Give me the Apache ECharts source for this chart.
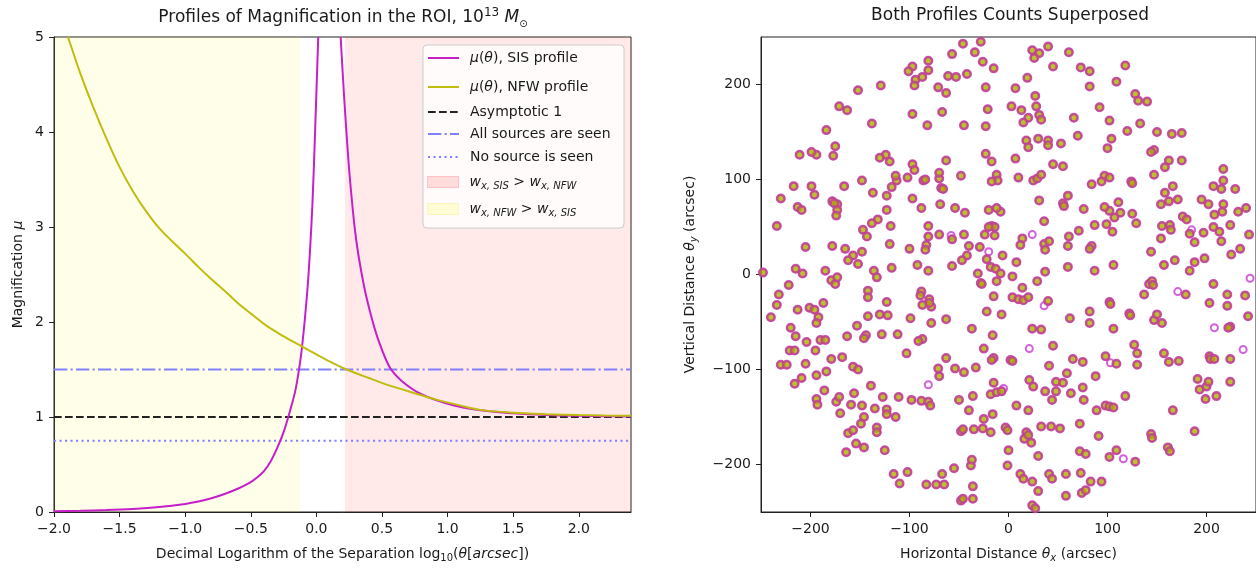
<!DOCTYPE html>
<html><head><meta charset="utf-8">
<script src="https://cdn.jsdelivr.net/npm/echarts@6/dist/echarts.min.js"></script>
<style>html,body{margin:0;padding:0;background:#fff}#c{width:1256px;height:568px}</style>
</head><body><div id="c"></div><script>
// ---------- data ----------
const xTicksLeft = [-2.0,-1.5,-1.0,-0.5,0.0,0.5,1.0,1.5,2.0];
const yTicksLeft = [0,1,2,3,4,5];
const ticksRight = [-200,-100,0,100,200];

const sisLeftX  = [-2.0,-1.8,-1.6,-1.4,-1.2,-1.0,-0.9,-0.8,-0.7,-0.6,-0.5,-0.45,-0.4,-0.35,-0.3,-0.25,-0.2,-0.16,-0.12,-0.09,-0.06,-0.03,-0.01,0.014];
const sisLeftMu = [0.008,0.013,0.02,0.032,0.052,0.085,0.11,0.145,0.19,0.245,0.315,0.365,0.43,0.53,0.67,0.84,1.07,1.28,1.62,2.0,2.5,3.25,4.0,5.0];
const sisRightX  = [0.185,0.21,0.25,0.30,0.36,0.42,0.48,0.56,0.65,0.8,1.0,1.25,1.5,1.75,2.0,2.2,2.398];
const sisRightMu = [5.0,4.4,3.6,2.9,2.4,2.05,1.78,1.52,1.38,1.24,1.14,1.07,1.04,1.022,1.013,1.009,1.006];
const nfwX  = [-1.893,-1.8,-1.7,-1.6,-1.5,-1.4,-1.3,-1.2,-1.1,-1.0,-0.9,-0.8,-0.7,-0.6,-0.5,-0.4,-0.3,-0.2,-0.12,0.0,0.1,0.22,0.4,0.56,0.75,0.92,1.1,1.25,1.5,1.75,2.0,2.2,2.398];
const nfwMu = [5.0,4.62,4.26,3.93,3.63,3.38,3.17,2.99,2.85,2.72,2.58,2.45,2.33,2.2,2.09,1.98,1.89,1.81,1.75,1.66,1.585,1.505,1.41,1.33,1.25,1.18,1.12,1.075,1.045,1.03,1.02,1.015,1.012];
const xRangeLeft = [-2.0, 2.398];
const yellowSpan = [-2.0, -0.124];
const redSpan = [0.217, 2.398];
const asymptoteLevel = 1.0;
const allSeenLevel = 1.5;
const noneSeenLevel = 0.75;

// sources detected with both profiles (filled) and with the SIS profile only (hollow)
const bothPoints = [
[-46,243],[-28,245],[-34,234],[-57,232],[-81,225],[-26,224],[-15,217],[-81,215],[-97,219],[-101,214],[-94,205],[-87,208],[-95,199],[-61,209],[-53,208],[-42,211],[-63,191],[-71,197],[-23,197],[-21,174],[-67,171],[-97,169],[-82,157],[-45,157],[-23,156],[-152,194],[-129,199],[-171,177],[-163,173],[-138,159],[-184,152],
[24,236],[31,233],[26,228],[40,240],[61,234],[45,219],[73,218],[82,214],[82,198],[118,220],[109,203],[19,207],[7,196],[27,188],[28,177],[3,177],[13,173],[31,168],[33,163],[20,165],[15,160],[66,165],[70,146],[92,176],[102,162],[128,190],[131,183],[140,182],[133,159],[120,151],[150,150],[165,148],[175,149],[104,143],[100,133],[30,143],[40,141],[40,136],[53,138],[18,141],[20,134],[7,122],[-23,127],[-17,119],[10,102],[-12,105],[-11,99],[-17,98],[45,116],[55,114],[25,99],[29,101],[33,105],[147,131],[144,129],[162,120],[175,120],[158,113],[147,105],[97,104],[102,102],[94,98],[84,95],[124,98],[125,96],[217,111],[217,99],[207,93],[215,90],[229,90],[166,93],[158,86],[162,77],[171,79],[154,74],[195,79],[202,74],[217,74],[216,66],[232,66],[240,70],[176,61],[180,58],[208,63],[207,50],[213,45],[224,52],[215,35],[243,42],[234,27],[197,44],[188,34],[183,43],[198,17],[188,13],[183,4],[225,21],[155,51],[163,52],[164,47],[154,38],[144,24],[168,15],[157,10],[129,54],[125,64],[111,76],[113,65],[107,60],[105,45],[102,67],[97,71],[99,53],[87,52],[76,69],[71,46],[84,30],[82,27],[106,10],[87,4],[60,83],[55,75],[56,72],[61,40],[60,30],[60,8],[36,56],[31,78],[36,32],[37,26],[41,35],[37,3],[29,-7],[14,38],[12,31],[8,13],
[-8,66],[-12,70],[-20,68],[-17,51],[-14,50],[-20,50],[-14,41],[-24,42],[-29,29],[-22,16],[-6,20],[-18,8],[-13,6],[-12,-7],[-8,1],[-31,1],[-28,-9],[-27,-10],[-42,20],[-47,15],[-40,30],[-45,42],[-44,65],[-54,70],[-57,37],[-57,9],[-69,74],[-70,101],[-68,91],[-66,90],[-70,107],[-63,120],[-48,104],[-70,42],[-81,51],[-81,40],[-83,31],[-84,26],[-88,70],[-86,99],[-84,100],[-97,116],[-95,110],[-102,102],[-113,99],[-118,92],[-123,83],[-123,68],[-119,51],[-120,32],[-118,7],[-97,80],[-100,27],[-92,10],[-81,4],[-120,119],[-124,126],[-130,123],[-114,104],[-132,58],[-138,54],[-137,86],[-148,99],[-147,47],[-143,40],[-148,24],[-165,27],[-157,20],[-162,15],[-152,11],[-136,4],[-133,-3],[-166,93],[-178,77],[-173,74],[-176,75],[-173,68],[-174,62],[-177,125],[-175,135],[-194,126],[-199,129],[-211,126],[-217,93],[-199,93],[-196,84],[-230,80],[-213,71],[-209,68],[-234,51],[-205,29],[-178,30],[-215,6],[-208,1],[-248,2],[-185,4],[-179,-6],[-175,-10],[-173,-3],
[-222,-11],[-232,-21],[-234,-32],[-240,-45],[-213,-37],[-201,-35],[-196,-37],[-192,-45],[-194,-51],[-187,-30],[-220,-56],[-215,-65],[-204,-71],[-195,-80],[-221,-80],[-216,-80],[-230,-95],[-224,-95],[-205,-94],[-209,-109],[-216,-115],[-194,-106],[-190,-69],[-185,-69],[-179,-89],[-184,-102],[-186,-122],[-194,-131],[-193,-137],[-174,-134],[-171,-129],[-170,-146],[-168,-87],[-163,-65],[-157,-97],[-152,-100],[-153,-54],[-142,-44],[-142,-17],[-142,-24],[-144,-64],[-146,-67],[-130,-42],[-122,-43],[-128,-63],[-123,-29],[-112,-63],[-99,-46],[-103,-83],[-156,-125],[-159,-137],[-148,-138],[-146,-150],[-149,-157],[-135,-141],[-127,-129],[-123,-142],[-123,-147],[-111,-129],[-114,-150],[-133,-161],[-133,-166],[-162,-167],[-157,-164],[-154,-178],[-146,-182],[-164,-187],[-125,-185],[-116,-210],[-110,-220],[-102,-208],[-98,-132],[-88,-133],[-81,-134],[-79,-138],[-139,-117],
[-83,-221],[-73,-221],[-65,-221],[-67,-210],[-55,-204],[-48,-165],[-46,-163],[-50,-132],[-36,-128],[-40,-143],[-35,-163],[-25,-152],[-26,-162],[-18,-166],[-16,-147],[-38,-201],[-37,-195],[-36,-223],[-48,-238],[-46,-236],[-36,-236],[-70,-107],[-71,-99],[-63,-88],[-54,-99],[-45,-103],[-33,-98],[-37,-57],[-63,-47],[-78,-51],[-78,-34],[-80,-26],[-80,-30],[-87,-32],[-88,-18],[-89,-22],[-87,-68],[-91,-70],[-25,-78],[-16,-64],[-22,-39],[-15,-23],[-7,-42],[-15,-88],[-17,-90],[-15,-114],[-18,-126],[-12,-124],[-7,-123],[2,-90],[4,-91],[8,-138],[-3,-161],[-1,-164],[0,-185],[-1,-201],[12,-210],[15,-215],[18,-166],[16,-173],[23,-177],[20,-169],[24,-218],[30,-228],[24,-243],[27,-246],[20,-143],[21,-111],[25,-118],[24,-57],[33,-58],[4,-24],[10,-26],[15,-27],[20,-24],[14,-14],[4,-2],[40,-28],[45,-75],[41,-96],[44,-132],[37,-123],[48,-123],[33,-160],[43,-160],[52,-162],[30,-191],[41,-210],[44,-215],[58,-210],[58,-233],[73,-209],[74,-230],[78,-227],[83,-218],[94,-218],[72,-157],[72,-186],[78,-189],[91,-170],[102,-192],[109,-185],[128,-197],[144,-168],[145,-172],[161,-182],[163,-186],[166,-143],[188,-165],[89,-143],[98,-138],[102,-139],[106,-140],[118,-128],[75,-119],[76,-132],[63,-125],[55,-114],[59,-104],[48,-113],[65,-89],[75,-92],[88,-107],[98,-86],[109,-94],[82,-51],[82,-39],[62,-46],[102,-29],[103,-31],[106,-57],[122,-41],[123,-43],[127,-74],[130,-83],[130,-95],[137,-21],[142,-10],[145,-7],[146,-11],[147,-48],[150,-42],[155,-51],[157,-83],[162,-92],[172,-91],[179,-21],[191,-110],[193,-121],[199,-131],[200,-118],[202,-113],[203,-86],[204,-89],[208,-89],[210,-128],[224,-89],[224,-113],[224,-55],[222,-56],[221,-33],[221,-21],[239,-22],[242,-44],[207,-10],[203,-30]
];
const sisOnlyPoints = [[-58,41],[24,42],[-20,24],[185,47],[244,-4],[171,-18],[208,-56],[21,-78],[237,-79],[103,-93],[-81,-116],[-5,-120],[116,-194],[36,-33]];

// ---------- styling ----------
const FONT = 'DejaVu Sans';
const TXT = '#1a1a1a';
const MAG = '#c71fc7', OLV = '#c0bc10';
const pairs = (xs, ys) => xs.map((x, i) => [x, ys[i]]);
const minus = v => (v < 0 ? '\u2212' : '') + Math.abs(v);
const rich = {
  i:   {fontFamily: FONT, fontSize: 14, fontStyle: 'italic', fontWeight: 'normal', color: TXT, lineHeight: 18},
  sub: {fontFamily: FONT, fontSize: 10, fontWeight: 'normal', color: TXT, verticalAlign: 'bottom', lineHeight: 12},
  isub:{fontFamily: FONT, fontSize: 10, fontStyle: 'italic', fontWeight: 'normal', color: TXT, verticalAlign: 'bottom', lineHeight: 12},
  sup: {fontFamily: FONT, fontSize: 12, fontWeight: 'normal', color: TXT, verticalAlign: 'top', lineHeight: 12},
  t:   {fontFamily: FONT, fontSize: 17, fontWeight: 'normal', color: TXT, lineHeight: 22},
  ti:  {fontFamily: FONT, fontSize: 17, fontStyle: 'italic', fontWeight: 'normal', color: TXT, lineHeight: 22}
};

const N_SIS = '\u03bc(\u03b8), SIS profile';
const N_NFW = '\u03bc(\u03b8), NFW profile';
const N_ASY = 'Asymptotic 1';
const N_ALL = 'All sources are seen';
const N_NON = 'No source is seen';
const N_RED = 'wSIS';
const N_YEL = 'wNFW';
const legendText = {
  [N_SIS]: '{i|\u03bc}({i|\u03b8}), SIS profile',
  [N_NFW]: '{i|\u03bc}({i|\u03b8}), NFW profile',
  [N_ASY]: 'Asymptotic 1',
  [N_ALL]: 'All sources are seen',
  [N_NON]: 'No source is seen',
  [N_RED]: '{i|w}{isub|x, SIS} > {i|w}{isub|x, NFW}',
  [N_YEL]: '{i|w}{isub|x, NFW} > {i|w}{isub|x, SIS}'
};
function mkLegend(item, centerY) {
  const isPatch = !!item.icon;
  if (!isPatch) item.itemStyle = {opacity: 0};
  return {
    data: [item], left: 427, top: centerY - 9, padding: 0, itemWidth: 31, itemHeight: isPatch ? 11 : 14,
    selectedMode: false, z: 5,
    formatter: n => legendText[n],
    textStyle: {fontFamily: FONT, fontSize: 14, color: TXT, lineHeight: 18, padding: [0,0,0,6], rich: rich}
  };
}

const axisCommon = {
  axisLine: {show: true, onZero: false, lineStyle: {color: '#222', width: 1}},
  axisTick: {show: true, length: 5, lineStyle: {color: '#222'}},
  splitLine: {show: false},
  nameTextStyle: {fontFamily: FONT, fontSize: 14, color: TXT, rich: rich, lineHeight: 18}
};
const labelStyle = {fontFamily: FONT, fontSize: 14, color: TXT, margin: 10};

const lineSeries = (name, data, color, width, type, extra) => Object.assign({
  type: 'line', name, data, xAxisIndex: 0, yAxisIndex: 0, symbol: 'none', silent: true,
  lineStyle: {color, width, type}, itemStyle: {color}
}, extra || {});

const option = {
  animation: false,
  backgroundColor: '#fff',
  textStyle: {fontFamily: FONT},
  title: [
    {text: '{t|Profiles of Magnification in the ROI, 10}{sup|13} {ti|M}{sub|\u2299}', left: 343, top: 7, padding: 0, textAlign: 'center',
     textStyle: {fontFamily: FONT, fontSize: 17, fontWeight: 'normal', color: TXT, rich: rich}},
    {text: 'Both Profiles Counts Superposed', left: 1010, top: 7, padding: 0, textAlign: 'center',
     textStyle: {fontFamily: FONT, fontSize: 17, fontWeight: 'normal', color: TXT}}
  ],
  grid: [
    {left: 54, top: 37, width: 577, height: 482, show: true, borderColor: '#222', borderWidth: 1, backgroundColor: 'transparent'},
    {left: 761, top: 37, width: 498, height: 482, show: true, borderColor: '#222', borderWidth: 1, backgroundColor: 'transparent'}
  ],
  xAxis: [
    Object.assign({}, axisCommon, {gridIndex: 0, type: 'value', min: xRangeLeft[0], max: xRangeLeft[1], interval: 0.5,
      axisTick: Object.assign({}, axisCommon.axisTick, {customValues: xTicksLeft}),
      axisLabel: Object.assign({}, labelStyle, {customValues: xTicksLeft, formatter: v => (v < 0 ? '\u2212' : '') + Math.abs(v).toFixed(1)}),
      name: 'Decimal Logarithm of the Separation log{sub|10}({i|\u03b8}[{i|arcsec}])', nameLocation: 'middle', nameGap: 33}),
    Object.assign({}, axisCommon, {gridIndex: 1, type: 'value', min: -250, max: 250, interval: 50,
      axisTick: Object.assign({}, axisCommon.axisTick, {customValues: ticksRight}),
      axisLabel: Object.assign({}, labelStyle, {customValues: ticksRight, formatter: minus}),
      name: 'Horizontal Distance {i|\u03b8}{isub|x} (arcsec)', nameLocation: 'middle', nameGap: 33})
  ],
  yAxis: [
    Object.assign({}, axisCommon, {gridIndex: 0, type: 'value', min: 0, max: 5, interval: 1,
      axisLabel: Object.assign({}, labelStyle, {formatter: v => String(v)}),
      name: 'Magnification {i|\u03bc}', nameLocation: 'middle', nameGap: 27, nameRotate: 90}),
    Object.assign({}, axisCommon, {gridIndex: 1, type: 'value', min: -250, max: 250, interval: 50,
      axisTick: Object.assign({}, axisCommon.axisTick, {customValues: ticksRight}),
      axisLabel: Object.assign({}, labelStyle, {customValues: ticksRight, formatter: minus}),
      name: 'Vertical Distance {i|\u03b8}{isub|y} (arcsec)', nameLocation: 'middle', nameGap: 62, nameRotate: 90})
  ],
  legend: [
    mkLegend({name: N_SIS}, 58),
    mkLegend({name: N_NFW}, 87),
    mkLegend({name: N_ASY}, 112),
    mkLegend({name: N_ALL}, 134),
    mkLegend({name: N_NON}, 157),
    mkLegend({name: N_RED, icon: 'rect', itemStyle: {color: 'rgba(255,0,0,0.12)', borderColor: 'rgba(255,0,0,0.18)', borderWidth: 1}}, 182),
    mkLegend({name: N_YEL, icon: 'rect', itemStyle: {color: 'rgba(255,255,0,0.15)', borderColor: 'rgba(230,230,0,0.2)', borderWidth: 1}}, 209)
  ],
  graphic: [{
    type: 'rect', z: 4, silent: true,
    shape: {x: 423, y: 45, width: 201, height: 183, r: 4},
    style: {fill: 'rgba(255,255,255,0.8)', stroke: '#cccccc', lineWidth: 1}
  }],
  series: [
    lineSeries(N_YEL, [[yellowSpan[0], 5], [yellowSpan[1], 5]], 'rgba(255,255,0,0.15)', 0, 'solid',
      {areaStyle: {color: 'rgba(255,255,0,0.12)', origin: 'start'}, lineStyle: {width: 0}, z: 1}),
    lineSeries(N_RED, [[redSpan[0], 5], [redSpan[1], 5]], 'rgba(255,0,0,0.12)', 0, 'solid',
      {areaStyle: {color: 'rgba(255,0,0,0.12)', origin: 'start'}, lineStyle: {width: 0}, z: 1}),
    lineSeries(N_ASY, [[xRangeLeft[0], asymptoteLevel], [xRangeLeft[1], asymptoteLevel]], '#222', 2, [7.7, 3.3]),
    lineSeries(N_ALL, [[xRangeLeft[0], allSeenLevel], [xRangeLeft[1], allSeenLevel]], '#8080ff', 2, [13.3, 3.3, 2.1, 3.3]),
    lineSeries(N_NON, [[xRangeLeft[0], noneSeenLevel], [xRangeLeft[1], noneSeenLevel]], '#8080ff', 2, [2.1, 3.4]),
    lineSeries(N_SIS, pairs(sisLeftX, sisLeftMu), MAG, 2, 'solid', {smooth: 0.3, z: 3}),
    lineSeries(N_SIS, pairs(sisRightX, sisRightMu), MAG, 2, 'solid', {smooth: 0.3, z: 3}),
    lineSeries(N_NFW, pairs(nfwX, nfwMu), OLV, 2, 'solid', {smooth: 0.3, z: 3}),
    {type: 'scatter', name: 'SIS counts', xAxisIndex: 1, yAxisIndex: 1, silent: true,
     data: bothPoints.concat(sisOnlyPoints), symbol: 'circle', symbolSize: 7,
     itemStyle: {color: 'rgba(0,0,0,0)', borderColor: '#c83ad6', borderWidth: 2}, z: 2},
    {type: 'scatter', name: 'NFW counts', xAxisIndex: 1, yAxisIndex: 1, silent: true,
     data: bothPoints, symbol: 'circle', symbolSize: 7.5,
     itemStyle: {color: '#b2ae00', borderColor: '#bf3f9a', borderWidth: 2.5}, z: 3}
  ]
};
const chart = echarts.init(document.getElementById('c'), null, {renderer: 'canvas'});
chart.setOption(option);
</script></body></html>
